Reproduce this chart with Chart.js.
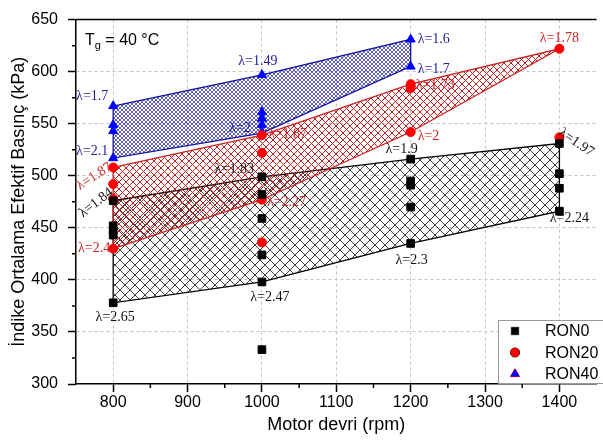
<!DOCTYPE html>
<html>
<head>
<meta charset="utf-8">
<script src="https://cdn.jsdelivr.net/npm/chart.js@4.4.0/dist/chart.umd.min.js"></script>
<style>
  html, body { margin: 0; padding: 0; background: #fff; overflow: hidden; }
  #wrap { width: 603px; height: 443px; }
</style>
</head>
<body>
<div id="wrap"><canvas id="chart" width="603" height="443"></canvas></div>
<script>
// Axis ticks
const xTicks = [800, 900, 1000, 1100, 1200, 1300, 1400];
const xMinorTicks = [850, 950, 1050, 1150, 1250, 1350];
const yTicks = [300, 350, 400, 450, 500, 550, 600, 650];
const yMinorTicks = [325, 375, 425, 475, 525, 575, 625];

// Measured points (rpm, kPa)
const ron0Rpm = [800, 800, 800, 800, 800, 1000, 1000, 1000, 1000, 1000, 1000, 1200, 1200, 1200, 1200, 1200, 1400, 1400, 1400, 1400];
const ron0Pme = [476, 452, 447, 443, 378, 499, 482, 459, 424, 398, 333, 516, 495, 491, 470, 435, 531, 502, 488, 466];
const ron20Rpm = [800, 800, 800, 800, 1000, 1000, 1000, 1000, 1200, 1200, 1200, 1400, 1400];
const ron20Pme = [508, 492, 478, 430, 539, 522, 477, 436, 588, 584, 542, 622, 537];
const ron40Rpm = [800, 800, 800, 800, 1000, 1000, 1000, 1000, 1000, 1200, 1200];
const ron40Pme = [567, 549, 543, 517, 597, 561, 555, 549, 542, 631, 605];

// Operating bands: upper / lower edges and the lambda at each edge point
const ron0BandRpm = [800, 1000, 1200, 1400];
const ron0Upper = [476, 499, 516, 531];
const ron0Lower = [378, 398, 435, 466];
const ron0UpperLambda = ['1.84', '1.83', '1.9', '1.97'];
const ron0LowerLambda = ['2.65', '2.47', '2.3', '2.24'];

const ron20BandRpm = [800, 1000, 1200, 1400];
const ron20Upper = [508, 539, 588, 622];
const ron20Lower = [430, 477, 542, 622];
const ron20UpperLambda = ['1.87', '1.87', '1.73', '1.78'];
const ron20LowerLambda = ['2.4', '2.27', '2', ''];

const ron40BandRpm = [800, 1000, 1200];
const ron40Upper = [567, 597, 631];
const ron40Lower = [517, 541, 605];
const ron40UpperLambda = ['1.7', '1.49', '1.6'];
const ron40LowerLambda = ['2.1', '2', '1.7'];

const BLACK = '#000000', RED = '#ff0000', BLUE = '#0000ff';
const TXT_BLACK = '#111111', TXT_RED = '#cc2222', TXT_BLUE = '#22229a';

const pts = (xs, ys) => xs.map((v, i) => ({ x: v, y: ys[i] }));
const polygon = (xs, up, lo) => {
    const p = pts(xs, up);
    for (let i = xs.length - 1; i >= 0; i--) p.push({ x: xs[i], y: lo[i] });
    p.push({ x: xs[0], y: up[0] });
    return p;
};

function hatch(color, gap, width) {
    const c = document.createElement('canvas');
    c.width = c.height = gap;
    const g = c.getContext('2d');
    g.strokeStyle = color;
    g.lineWidth = width;
    g.beginPath();
    g.moveTo(-1, -1); g.lineTo(gap + 1, gap + 1);
    g.moveTo(-1, gap + 1); g.lineTo(gap + 1, -1);
    g.stroke();
    return g.createPattern(c, 'repeat');
}

// label offsets from the anchor point: [dx, dy, align, rotation deg]
const lambdaSets = [
    { rpm: ron0BandRpm, pme: ron0Upper, lambda: ron0UpperLambda, color: TXT_BLACK,
      offsets: [[-17, 2, 'center', -38], [-8, -7, 'right', 0], [-9, -10, 'center', 0], [17, -1, 'center', 34]] },
    { rpm: ron0BandRpm, pme: ron0Lower, lambda: ron0LowerLambda, color: TXT_BLACK,
      offsets: [[2, 15, 'center', 0], [8, 15, 'center', 0], [1, 17, 'center', 0], [10, 7, 'center', 0]] },
    { rpm: ron20BandRpm, pme: ron20Upper, lambda: ron20UpperLambda, color: TXT_RED,
      offsets: [[-19, 9, 'center', -33], [6, -1, 'left', 0], [5, 1, 'left', 0], [0, -10, 'center', 0]] },
    { rpm: ron20BandRpm, pme: ron20Lower, lambda: ron20LowerLambda, color: TXT_RED,
      offsets: [[-3, 0, 'right', 0], [5, 3, 'left', 0], [7, 4, 'left', 0], [0, 0, 'center', 0]] },
    { rpm: ron40BandRpm, pme: ron40Upper, lambda: ron40UpperLambda, color: TXT_BLUE,
      offsets: [[-21, -10, 'center', 0], [-4, -13, 'center', 0], [7, 0, 'left', 0]] },
    { rpm: ron40BandRpm, pme: ron40Lower, lambda: ron40LowerLambda, color: TXT_BLUE,
      offsets: [[-21, -7, 'center', 0], [-22, -5, 'center', 0], [7, 3, 'left', 0]] }
];

const lambdaPlugin = {
    id: 'lambdaLabels',
    afterDatasetsDraw(chart) {
        const { ctx, scales: { x, y } } = chart;
        ctx.save();
        ctx.font = '14px "Liberation Serif", "Times New Roman", serif';
        ctx.textBaseline = 'middle';
        lambdaSets.forEach(set => {
            set.rpm.forEach((r, i) => {
                const txt = set.lambda[i];
                if (!txt) return;
                const [dx, dy, align, rot] = set.offsets[i];
                ctx.save();
                ctx.translate(x.getPixelForValue(r) + dx, y.getPixelForValue(set.pme[i]) + dy);
                ctx.rotate(rot * Math.PI / 180);
                ctx.textAlign = align;
                ctx.fillStyle = set.color;
                ctx.fillText('λ=' + txt, 0, 0);
                ctx.restore();
            });
        });
        ctx.restore();
    }
};

// frame top line, minor ticks, Tg note and legend box
const decorPlugin = {
    id: 'decor',
    afterDraw(chart) {
        const { ctx, chartArea: a, scales: { x, y } } = chart;
        ctx.save();
        ctx.strokeStyle = '#000';
        ctx.lineWidth = 1.5;
        ctx.beginPath();
        ctx.moveTo(a.left, a.top); ctx.lineTo(a.right, a.top);
        xMinorTicks.forEach(v => { const px = x.getPixelForValue(v); ctx.moveTo(px, a.bottom); ctx.lineTo(px, a.bottom + 4); });
        yMinorTicks.forEach(v => { const py = y.getPixelForValue(v); ctx.moveTo(a.left, py); ctx.lineTo(a.left - 4, py); });
        ctx.stroke();

        // T_g = 40 °C
        ctx.fillStyle = '#000';
        ctx.textBaseline = 'alphabetic';
        ctx.textAlign = 'left';
        ctx.font = '16px "Liberation Sans", Arial, sans-serif';
        let tx = a.left + 9;
        const ty = a.top + 25;
        ctx.fillText('T', tx, ty);
        tx += ctx.measureText('T').width;
        ctx.font = '11px "Liberation Sans", Arial, sans-serif';
        ctx.fillText('g', tx, ty + 4);
        tx += ctx.measureText('g').width;
        ctx.font = '16px "Liberation Sans", Arial, sans-serif';
        ctx.fillText(' = 40 °C', tx, ty);

        // legend
        const lx = 498, ly = 320;
        ctx.fillStyle = '#fff';
        ctx.fillRect(lx, ly, 120, a.bottom - ly);
        ctx.strokeStyle = '#999';
        ctx.lineWidth = 1;
        ctx.strokeRect(lx + 0.5, ly + 0.5, 120, a.bottom - ly - 1);
        ctx.font = '16px "Liberation Sans", Arial, sans-serif';
        ctx.textBaseline = 'middle';
        chart.data.datasets.filter(d => d.inLegend).forEach((d, i) => {
            const cy = ly + 11 + i * 21.5;
            Chart.helpers.drawPoint(ctx, {
                pointStyle: d.pointStyle, radius: d.pointRadius, rotation: 0, borderWidth: 1
            }, lx + 17, cy);
            ctx.fillStyle = d.backgroundColor;
            ctx.strokeStyle = d.borderColor;
            ctx.fill();
            ctx.fillStyle = '#000';
            ctx.fillText(d.label, lx + 47, cy + 1);
        });
        ctx.restore();
    }
};

function pointSet(label, xs, ys, color, style, radius) {
    return {
        type: 'scatter', label, inLegend: true, data: pts(xs, ys),
        pointStyle: style, pointRadius: radius, backgroundColor: color, borderColor: color,
        borderWidth: 1, order: 0
    };
}

function band(xs, up, lo, lineColor, pattern, order) {
    return [
        { type: 'line', data: polygon(xs, up, lo), borderColor: lineColor, borderWidth: 1.3,
          pointRadius: 0, fill: false, tension: 0, order: order },
        { type: 'line', data: pts(xs, up), borderWidth: 0, pointRadius: 0, tension: 0,
          fill: { target: '+1' }, backgroundColor: pattern, order: order + 1 },
        { type: 'line', data: pts(xs, lo), borderWidth: 0, pointRadius: 0, tension: 0,
          fill: false, order: 9 }
    ];
}

const edgeGrid = (vals) => (c) =>
    (c.tick && (c.tick.value === vals[0] || c.tick.value === vals[vals.length - 1])) ? 'rgba(0,0,0,0)' : '#c4c4c4';

document.addEventListener('DOMContentLoaded', () => {
    const ctx = document.getElementById('chart').getContext('2d');
    const datasets = [
        pointSet('RON0', ron0Rpm, ron0Pme, BLACK, 'rect', 5.4),
        pointSet('RON20', ron20Rpm, ron20Pme, RED, 'circle', 4.5),
        pointSet('RON40', ron40Rpm, ron40Pme, BLUE, 'triangle', 5.2),
        ...band(ron40BandRpm, ron40Upper, ron40Lower, '#1010a0', hatch('#2c2ca4', 4, 0.75), 1),
        ...band(ron20BandRpm, ron20Upper, ron20Lower, '#cc2020', hatch('#b82424', 7, 1), 3),
        ...band(ron0BandRpm, ron0Upper, ron0Lower, '#000000', hatch('#2a2a2a', 10, 0.9), 5)
    ];

    new Chart(ctx, {
        type: 'scatter',
        data: { datasets },
        options: {
            responsive: false,
            animation: false,
            events: [],
            layout: { padding: { top: 14, right: 0, left: 0, bottom: 0 } },
            plugins: { legend: { display: false }, tooltip: { enabled: false } },
            scales: {
                x: {
                    type: 'linear', min: 750, max: 1450,
                    afterBuildTicks: s => { s.ticks = xTicks.map(v => ({ value: v })); },
                    afterFit: s => { s.height = 59; },
                    ticks: { color: '#000', padding: 1, callback: v => String(v),
                             font: { family: '"Liberation Sans", Arial, sans-serif', size: 16 } },
                    grid: { color: edgeGrid([750, 1450]), tickColor: '#000', tickLength: 8, tickWidth: 1.5 },
                    border: { color: '#000', width: 1.5, dash: [3, 3] },
                    title: { display: true, text: 'Motor devri (rpm)', color: '#000', padding: { top: 0, bottom: 7 },
                             font: { family: '"Liberation Sans", Arial, sans-serif', size: 18 } }
                },
                y: {
                    type: 'linear', min: 300, max: 650,
                    afterBuildTicks: s => { s.ticks = yTicks.map(v => ({ value: v })); },
                    afterFit: s => { s.width = 76; },
                    ticks: { color: '#000', padding: 10, callback: v => String(v),
                             font: { family: '"Liberation Sans", Arial, sans-serif', size: 16 } },
                    grid: { color: edgeGrid(yTicks), tickColor: '#000', tickLength: 8, tickWidth: 1.5 },
                    border: { color: '#000', width: 1.5, dash: [3, 3] },
                    title: { display: true, text: 'İndike Ortalama Efektif Basınç (kPa)', color: '#000', padding: { top: 8, bottom: 0 },
                             font: { family: '"Liberation Sans", Arial, sans-serif', size: 18 } }
                }
            }
        },
        plugins: [lambdaPlugin, decorPlugin]
    });
});
</script>
</body>
</html>
